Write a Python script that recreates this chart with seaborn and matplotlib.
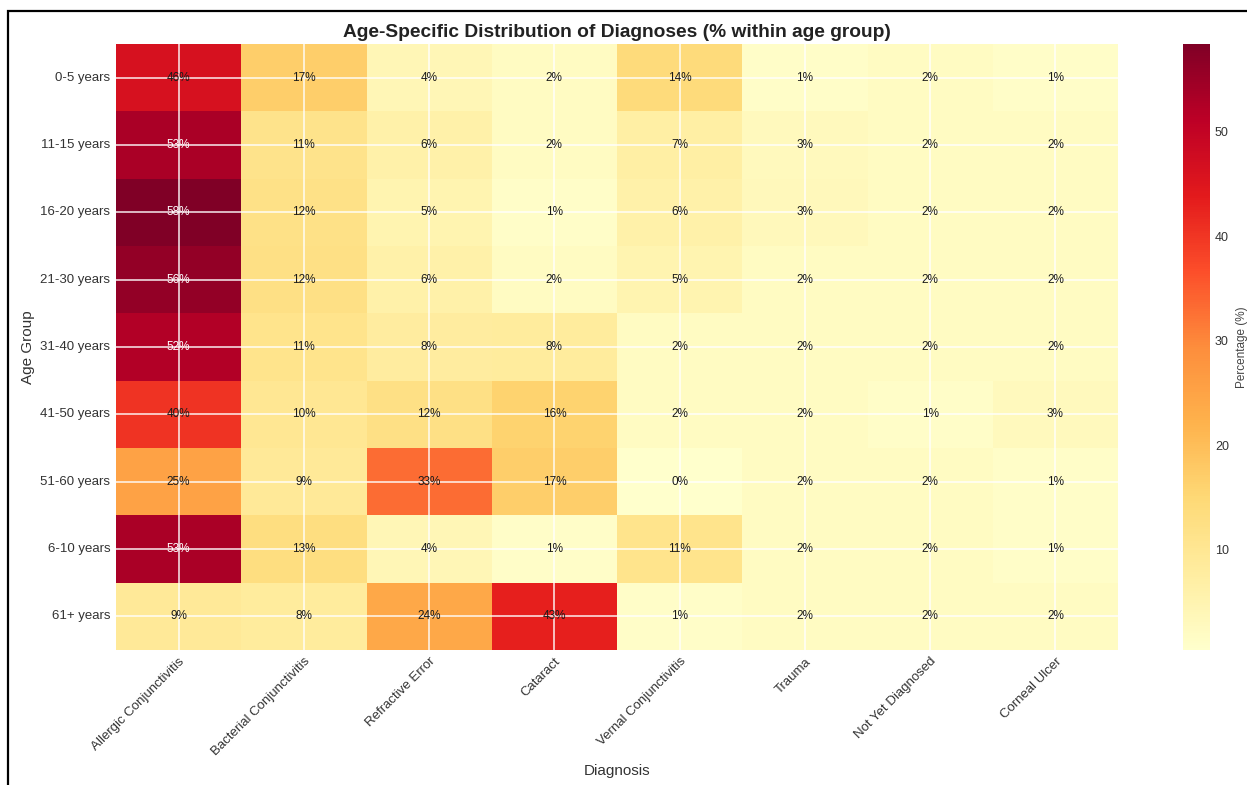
import numpy as np
import pandas as pd
import matplotlib
matplotlib.use("Agg")
import matplotlib.pyplot as plt
from matplotlib.patches import Rectangle
import seaborn as sns

# Age groups (rows) and diagnoses (columns)
age_groups = ["0-5 years", "11-15 years", "16-20 years", "21-30 years", "31-40 years",
              "41-50 years", "51-60 years", "6-10 years", "61+ years"]
diagnoses = ["Allergic Conjunctivitis", "Bacterial Conjunctivitis", "Refractive Error",
             "Cataract", "Vernal Conjunctivitis", "Trauma", "Not Yet Diagnosed", "Corneal Ulcer"]

# Percentage of each diagnosis within an age group, one list per diagnosis
allergic_conj = [46.2, 53.3, 58.4, 56.1, 52.4, 40.3, 25.1, 53.2, 9.2]
bacterial_conj = [17.1, 11.3, 12.1, 12.2, 11.2, 10.1, 9.1, 13.1, 8.2]
refractive_err = [4.1, 6.1, 5.1, 6.2, 8.1, 12.2, 33.1, 4.2, 24.1]
cataract = [2.1, 2.0, 1.2, 2.0, 8.2, 16.1, 17.1, 1.1, 43.2]
vernal_conj = [14.1, 7.1, 6.2, 5.1, 2.1, 2.0, 0.4, 11.1, 1.2]
trauma = [1.3, 3.1, 3.2, 2.2, 2.1, 2.0, 2.2, 2.1, 2.0]
not_diagnosed = [2.0, 2.1, 2.0, 2.1, 2.0, 1.3, 2.1, 2.0, 2.1]
corneal_ulcer = [1.2, 2.1, 2.0, 2.1, 2.0, 3.1, 1.2, 1.3, 2.1]

df = pd.DataFrame(
    np.column_stack([allergic_conj, bacterial_conj, refractive_err, cataract,
                     vernal_conj, trauma, not_diagnosed, corneal_ulcer]),
    index=age_groups, columns=diagnoses)

sns.set_style("whitegrid")
plt.rcParams["font.family"] = ["Liberation Sans", "DejaVu Sans"]

fig = plt.figure(figsize=(12.47, 7.85), dpi=100)
W, H = 1247, 785
ax = fig.add_axes([116 / W, (H - 650) / H, (1118 - 116) / W, (650 - 44) / H])
cax = fig.add_axes([1183 / W, (H - 650) / H, 27 / W, (650 - 44) / H])

annot = df.map(lambda v: f"{v:.0f}%")
sns.heatmap(df, ax=ax, cbar_ax=cax, cmap="YlOrRd", annot=annot, fmt="",
            annot_kws={"fontsize": 8.5}, linewidths=0,
            cbar_kws={"label": "Percentage (%)"})

# white labels only on the darkest cells
vals = df.values.ravel()
for txt, v in zip(ax.texts, vals):
    txt.set_color("white" if v > 50 else "#1a1a1a")

# light grid through the cell centres, drawn over the cells
ax.set_axisbelow(False)
ax.grid(True, color="white", linewidth=1.2, alpha=0.85)
for sp in ax.spines.values():
    sp.set_visible(False)

ax.set_title("Age-Specific Distribution of Diagnoses (% within age group)",
             fontsize=13.8, fontweight="bold", pad=5, color="#222222")
ax.set_xlabel("Diagnosis", fontsize=11, color="#333333", labelpad=4)
ax.set_ylabel("Age Group", fontsize=11, color="#333333", labelpad=4)
ax.set_xticklabels(ax.get_xticklabels(), rotation=45, ha="right",
                   rotation_mode="anchor", fontsize=9.5, color="#333333")
ax.set_yticklabels(ax.get_yticklabels(), rotation=0, fontsize=9.5, color="#333333")
ax.tick_params(length=0, pad=4)

cbar = ax.collections[0].colorbar
cbar.outline.set_visible(False)
cbar.ax.tick_params(labelsize=9, length=0, labelcolor="#333333")
cbar.set_label("Percentage (%)", fontsize=8.5, color="#444444", labelpad=5)

# frame around the figure
fig.patches.append(Rectangle((8 / W, -0.05), 1.1, 1 - 11 / H + 0.05,
                             transform=fig.transFigure, fill=False,
                             edgecolor="black", linewidth=1.6, zorder=10))

fig.savefig("out.png", dpi=100)
